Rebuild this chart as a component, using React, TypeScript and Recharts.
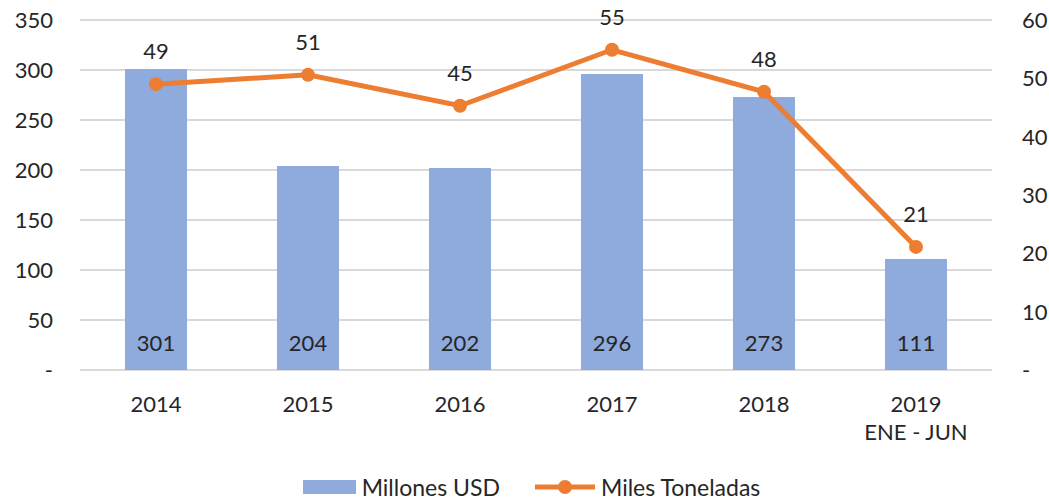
// Exportaciones: valor (barras) y volumen (línea), 2014 – 2019 ene-jun
import {
  ComposedChart,
  Bar,
  Line,
  XAxis,
  YAxis,
  CartesianGrid,
  Legend,
  LabelList,
} from "recharts";

const years = ["2014", "2015", "2016", "2017", "2018", "2019\nENE - JUN"];
const millonesUsd = [301, 204, 202, 296, 273, 111];
const milesToneladas = [49, 50.6, 45.3, 54.9, 47.7, 21.1];
const leftTicks = [0, 50, 100, 150, 200, 250, 300, 350];
const rightTicks = [0, 10, 20, 30, 40, 50, 60];

const data = years.map((year, i) => ({
  year,
  usd: millonesUsd[i],
  ton: milesToneladas[i],
}));

const FONT = "Lato, 'Open Sans', sans-serif";
const TEXT = "#262626";
const BLUE = "#8faadc";
const ORANGE = "#ed7d31";

const dashZero = (v: number) => (v === 0 ? "-" : String(v));

/* ---- multi-line category ticks ---- */
function YearTick({ x, y, payload }: any) {
  const lines = String(payload.value).split("\n");
  return (
    <text x={x} y={y} textAnchor="middle" fill={TEXT} fontFamily={FONT} fontSize={22}>
      {lines.map((line, i) => (
        <tspan key={i} x={x} dy={i === 0 ? 34 : 28}>
          {line}
        </tspan>
      ))}
    </text>
  );
}

/* ---- right axis ticks, left-aligned ---- */
function RightTick({ x, y, payload }: any) {
  return (
    <text x={x} y={y} dy={8} textAnchor="start" fill={TEXT} fontFamily={FONT} fontSize={22}>
      {dashZero(payload.value)}
    </text>
  );
}

/* ---- legend ---- */
function ChartLegend() {
  return (
    <div
      style={{
        display: "flex",
        justifyContent: "center",
        alignItems: "center",
        fontFamily: FONT,
        fontSize: 23,
        color: TEXT,
        gap: 6,
        height: 30,
        paddingLeft: 14,
      }}
    >
      <span style={{ width: 53, height: 14, background: BLUE, display: "inline-block" }} />
      <span style={{ marginRight: 29 }}>Millones USD</span>
      <svg width={60} height={16}>
        <line x1={0} y1={8} x2={60} y2={8} stroke={ORANGE} strokeWidth={5} />
        <circle cx={30} cy={8} r={7} fill={ORANGE} />
      </svg>
      <span>Miles Toneladas</span>
    </div>
  );
}

export default function App() {
  return (
    <div style={{ position: "absolute", left: 0, top: 0, background: "#fff" }}>
      <ComposedChart
        width={1049}
        height={502}
        data={data}
        margin={{ top: 20, right: 0, left: 0, bottom: 0 }}
      >
        <CartesianGrid vertical={false} stroke="#d9d9d9" strokeWidth={2} yAxisId="left" />
        <XAxis
          dataKey="year"
          axisLine={false}
          tickLine={false}
          tick={<YearTick />}
          height={102}
          interval={0}
        />
        <YAxis
          yAxisId="left"
          domain={[0, 350]}
          ticks={leftTicks}
          tickFormatter={dashZero}
          axisLine={false}
          tickLine={false}
          width={80}
          tickMargin={21}
          tick={{ fill: TEXT, fontFamily: FONT, fontSize: 22 }}
        />
        <YAxis
          yAxisId="right"
          orientation="right"
          domain={[0, 60]}
          ticks={rightTicks}
          axisLine={false}
          tickLine={false}
          width={57}
          tickSize={0}
          tickMargin={30}
          tick={<RightTick />}
        />
        <Legend verticalAlign="bottom" height={30} content={<ChartLegend />} />
        <Bar
          yAxisId="left"
          dataKey="usd"
          fill={BLUE}
          barSize={62}
          isAnimationActive={false}
        >
          <LabelList
            dataKey="usd"
            position="insideBottom"
            offset={19}
            fill={TEXT}
            fontFamily={FONT}
            fontSize={22}
          />
        </Bar>
        <Line
          yAxisId="right"
          dataKey="ton"
          stroke={ORANGE}
          strokeWidth={5}
          dot={{ r: 7, fill: ORANGE, stroke: ORANGE, strokeWidth: 0 }}
          isAnimationActive={false}
        >
          <LabelList
            dataKey="ton"
            position="top"
            offset={25}
            formatter={(v: any) => Math.round(Number(v))}
            fill={TEXT}
            fontFamily={FONT}
            fontSize={22}
          />
        </Line>
      </ComposedChart>
    </div>
  );
}
